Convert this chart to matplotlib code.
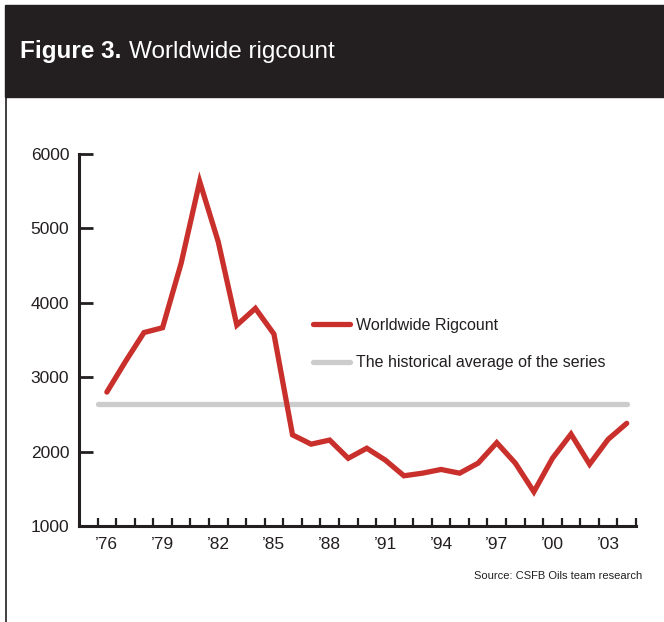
import matplotlib
matplotlib.use("Agg")
import matplotlib.pyplot as plt
from matplotlib.patches import Rectangle
from matplotlib.lines import Line2D

plt.rcParams["font.family"] = ["Liberation Sans", "DejaVu Sans"]

years = list(range(1976, 2005))
rigcount = [2800, 3210, 3600, 3665, 4530, 5630, 4820, 3700, 3925, 3580,
            2225, 2100, 2155, 1910, 2045, 1885, 1675, 1710, 1760, 1710,
            1845, 2120, 1845, 1460, 1910, 2235, 1830, 2165, 2380]
hist_avg = 2640
tick_years = [1976, 1979, 1982, 1985, 1988, 1991, 1994, 1997, 2000, 2003]
tick_labels = ["\u201976", "\u201979", "\u201982", "\u201985", "\u201988",
               "\u201991", "\u201994", "\u201997", "\u201900", "\u201903"]
y_ticks = [1000, 2000, 3000, 4000, 5000, 6000]

W, H = 664, 622
fig = plt.figure(figsize=(W / 100, H / 100), dpi=100)

# header bar
fig.patches.append(Rectangle((5 / W, 1 - 97 / H), 1, 92 / H,
                             transform=fig.transFigure, color="#231f20", zorder=0))
fig.lines.append(Line2D([6 / W, 6 / W], [0, 1 - 97 / H], transform=fig.transFigure,
                        color="#231f20", lw=1.2))
t1 = fig.text(20 / W, 1 - 58 / H, "Figure 3.", color="white", fontsize=17.5,
              fontweight="bold", va="baseline", ha="left")
fig.canvas.draw()
bb = t1.get_window_extent()
fig.text((bb.x1 + 8) / W, 1 - 58 / H, "Worldwide rigcount", color="white",
         fontsize=17.5, va="baseline", ha="left")

ax = fig.add_axes([79 / W, 1 - 526 / H, (636 - 79) / W, (526 - 154) / H])
red, = ax.plot(years, rigcount, color="#c9302c", lw=3.8, solid_joinstyle="miter",
               solid_capstyle="round", zorder=3, label="Worldwide Rigcount")
avg, = ax.plot([years[0] - 0.5, years[-1]], [hist_avg, hist_avg], color="#cccccc",
               lw=3.8, solid_capstyle="round", zorder=2,
               label="The historical average of the series")

ax.set_xlim(1974.5, 2004.5)
ax.set_ylim(1000, 6000)
ax.set_yticks(y_ticks)
ax.set_xticks(tick_years)
ax.set_xticklabels(tick_labels)
ax.set_xticks([y + 0.5 for y in range(1975, 2005)], minor=True)
for s in ["top", "right"]:
    ax.spines[s].set_visible(False)
for s in ["left", "bottom"]:
    ax.spines[s].set_linewidth(2.2)
    ax.spines[s].set_color("#231f20")
ax.tick_params(axis="y", direction="in", length=10, width=2, color="#231f20",
               labelsize=12.5, pad=7, labelcolor="#231f20")
ax.tick_params(axis="x", which="major", length=0, labelsize=12.5, pad=8,
               labelcolor="#231f20")
ax.tick_params(axis="x", which="minor", direction="in", length=6, width=1.6,
               color="#231f20")

leg = ax.legend(handles=[red, avg], loc="upper left", frameon=False,
                bbox_to_anchor=(313 / W, 1 - 318 / H), bbox_transform=fig.transFigure,
                borderpad=0, borderaxespad=0, handlelength=2.3, handletextpad=0.4,
                labelspacing=1.4, fontsize=11.5)
for t in leg.get_texts():
    t.set_color("#231f20")

fig.text(642 / W, 1 - 576 / H, "Source: CSFB Oils team research", fontsize=8,
         ha="right", va="center", color="#231f20")

fig.savefig("out.png", dpi=100)
